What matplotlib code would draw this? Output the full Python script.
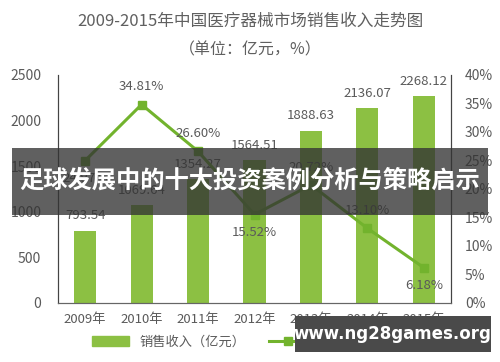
import matplotlib
matplotlib.use("Agg")
import matplotlib.pyplot as plt
from matplotlib.patches import Rectangle
from matplotlib.lines import Line2D
from matplotlib.patches import Patch

plt.rcParams["font.family"] = ["Noto Sans CJK SC", "DejaVu Sans"]

# ── Data ──────────────────────────────────────────────────────────────────────
years = ["2009年", "2010年", "2011年", "2012年", "2013年", "2014年", "2015年"]
revenue = [793.54, 1069.64, 1354.27, 1564.51, 1888.63, 2136.07, 2268.12]
growth = [24.97, 34.81, 26.60, 15.52, 20.72, 13.10, 6.18]
left_ticks = [0, 500, 1000, 1500, 2000, 2500]
right_ticks = [0, 5, 10, 15, 20, 25, 30, 35, 40]
# label placement for growth values: +1 above point, -1 below
growth_side = [-1, 1, 1, -1, 1, 1, -1]

BAR_COL = "#8cc043"
LINE_COL = "#72b32d"
TXT = "#5a5a5a"

fig = plt.figure(figsize=(5.0, 3.62), dpi=100)
ax = fig.add_axes([0.116, 0.163, 0.786, 0.630])
ax2 = ax.twinx()

x = list(range(len(years)))
ax.bar(x, revenue, width=0.39, color=BAR_COL, zorder=2)
for xi, v in zip(x, revenue):
    ax.annotate(f"{v:.2f}", (xi, v), xytext=(0, 6), textcoords="offset points",
                ha="center", va="bottom", fontsize=9.5, color=TXT)

ax2.plot(x, growth, color=LINE_COL, lw=2.2, marker="s", ms=6, zorder=3)
for xi, g, s in zip(x, growth, growth_side):
    ax2.annotate(f"{g:.2f}%", (xi, g), xytext=(0, 8 * s), textcoords="offset points",
                 ha="center", va="bottom" if s > 0 else "top", fontsize=9.5, color=TXT)

ax.set_xlim(-0.48, 6.48)
ax.set_ylim(0, 2500)
ax2.set_ylim(0, 40)
ax.set_yticks(left_ticks)
ax2.set_yticks(right_ticks)
ax2.set_yticklabels([f"{t}%" for t in right_ticks])
ax.set_xticks(x)
ax.set_xticklabels(years)

for a in (ax, ax2):
    a.tick_params(length=0, labelsize=10, colors=TXT, pad=12)
    a.spines["top"].set_visible(False)
    a.spines["bottom"].set_color("#666666")
    a.spines["left"].set_color("#444444")
    a.spines["right"].set_color("#444444")
ax2.tick_params(pad=10)
ax.tick_params(axis="x", pad=7, labelsize=9.5)

# titles
fig.text(0.5, 0.94, "2009-2015年中国医疗器械市场销售收入走势图", ha="center", va="center",
         fontsize=12, color="#606060")
fig.text(0.5, 0.862, "（单位：亿元，%）", ha="center", va="center",
         fontsize=11.5, color="#606060")

# legend
handles = [Patch(color=BAR_COL),
           Line2D([0], [0], color=LINE_COL, lw=2.2, marker="s", ms=6)]
fig.legend(handles, ["销售收入（亿元）", "同比增长（%）"], loc="center left",
           bbox_to_anchor=(0.16, 0.055), ncol=2, frameon=False, fontsize=9.5,
           labelcolor=TXT, handlelength=2.8, columnspacing=1.8)

# overlay banner
fig.patches.append(Rectangle((0.024, 1 - 215 / 362), 0.952, 67 / 362, transform=fig.transFigure,
                             facecolor="#333333", alpha=0.78, zorder=10))
fig.text(0.5, 1 - 181 / 362, "足球发展中的十大投资案例分析与策略启示", ha="center", va="center",
         fontsize=17.5, fontweight="bold", color="white", zorder=11)

# watermark
fig.patches.append(Rectangle((0.59, 1 - 352 / 362), 0.392, 36 / 362, transform=fig.transFigure,
                             facecolor="#4a4a4a", zorder=10))
fig.text(0.785, 1 - 334 / 362, "www.ng28games.org", ha="center", va="center",
         fontsize=12, fontweight="bold", color="white", family="DejaVu Sans", zorder=11)

fig.savefig("out.png", dpi=100)
